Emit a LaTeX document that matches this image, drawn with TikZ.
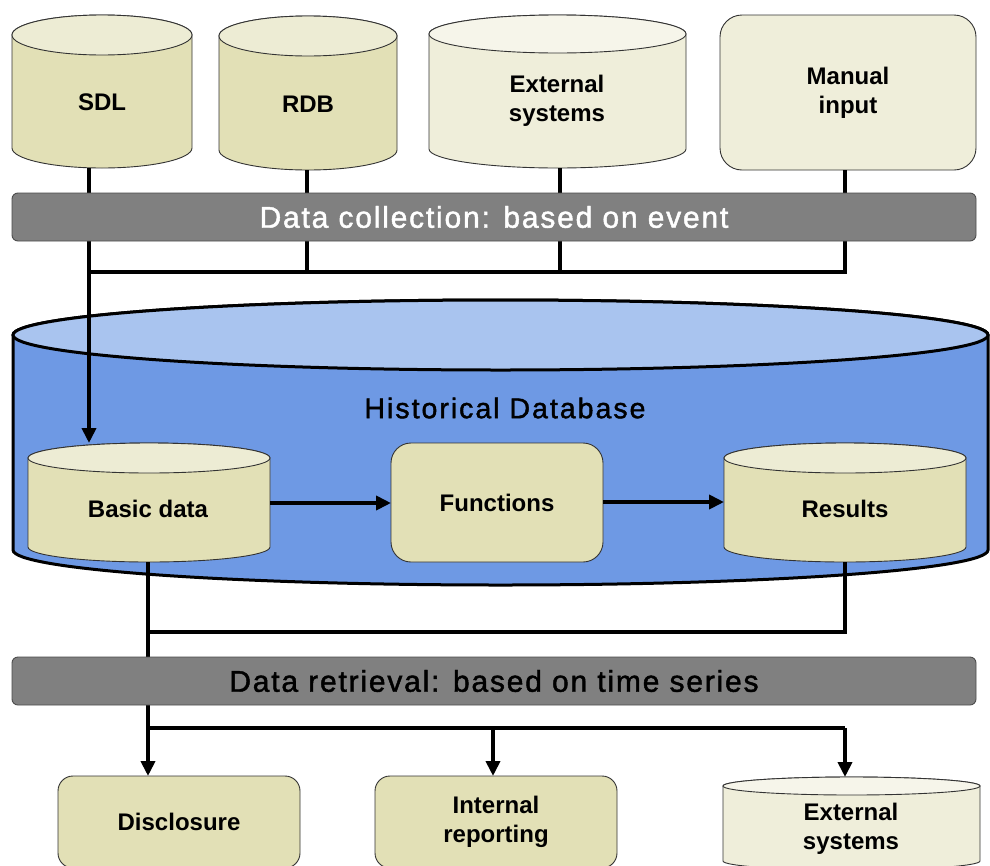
\documentclass[tikz,border=0pt]{standalone}
\usepackage{fontspec}
\setmainfont{Liberation Sans}
\newfontfamily\spacedfont[LetterSpace=6,FakeBold=1.5]{Liberation Sans}
\newfontfamily\hdbfont[LetterSpace=7,FakeBold=1.5]{Liberation Sans}
\usetikzlibrary{arrows.meta}
\definecolor{oliveside}{HTML}{E2E0B6}
\definecolor{olivetop}{HTML}{EDECD4}
\definecolor{paleside}{HTML}{EFEEDA}
\definecolor{paletop}{HTML}{F6F5EA}
\definecolor{barg}{HTML}{808080}
\definecolor{bigside}{HTML}{6E99E4}
\definecolor{bigtop}{HTML}{A9C4EF}
\newcommand\cylshape[9]{%
  \pgfmathsetmacro\mycx{(#3+#4)/2}%
  \pgfmathsetmacro\myrx{(#4-#3)/2}%
  \pgfmathsetmacro\mycyt{#5+#7}%
  \pgfmathsetmacro\mycyb{#6-#7}%
  \draw[#1, fill=#8] (#3,\mycyt) -- (#3,\mycyb)
     arc[start angle=180, end angle=0, x radius=\myrx, y radius=#7]
     -- (#4,\mycyt)
     arc[start angle=0, end angle=-180, x radius=\myrx, y radius=#7] -- cycle;
  \draw[#1, fill=#9] (\mycx,\mycyt) ellipse[x radius=\myrx, y radius=#7];
  \node[anchorbox, minimum width={#4-#3}, minimum height={#6-#5}] (#2) at (\mycx,{(#5+#6)/2}) {};
}
\begin{document}
\begin{tikzpicture}[x=1pt,y=-1pt,
  conn/.style={draw=black, line width=4.5pt},
  arr/.style={conn, -{Triangle[length=15pt,width=14pt]}},
  lbl/.style={font=\fontsize{24}{29}\selectfont\bfseries, align=center, inner sep=0pt, text=black},
  anchorbox/.style={rectangle, inner sep=0pt, outer sep=0pt},
  thinb/.style={draw=black!80, line width=0.9pt},
  thickb/.style={draw=black, line width=3pt},
  rbox/.style={rectangle, thinb, inner sep=0pt, outer sep=0pt, align=center,
     font=\fontsize{24}{29}\selectfont\bfseries},
  bar/.style={rectangle, draw=black!70, line width=0.9pt, rounded corners=6pt, fill=barg,
     minimum width=964pt, minimum height=48pt, inner sep=0pt, outer sep=0pt,
     font=\spacedfont\fontsize{30}{36}\selectfont}
]
\useasboundingbox (0,0) rectangle (990,865);
\fill[white] (0,0) rectangle (990,865);
\clip (0,0) rectangle (990,865);

% big historical database cylinder
\cylshape{thickb}{hdb}{13}{988}{300}{585}{35}{bigside}{bigtop}
\node[font=\hdbfont\fontsize{28.5}{34}\selectfont, inner sep=0pt] (hdbt) at (505,408) {Historical Database};

% inner nodes
\cylshape{thinb}{basic}{28}{270}{443}{562}{15}{oliveside}{olivetop}
\node[lbl] (basict) at (148,509) {Basic data};
\node[rbox, rounded corners=20pt, fill=oliveside, minimum width=212pt, minimum height=119pt] (func) at (497,502.5) {Functions};
\cylshape{thinb}{results}{724}{966}{443}{562}{15}{oliveside}{olivetop}
\node[lbl] (resultst) at (845,509) {Results};

% top sources
\cylshape{thinb}{sdl}{12}{192}{15}{168}{20}{oliveside}{olivetop}
\node[lbl] (sdlt) at (102,102) {SDL};
\cylshape{thinb}{rdb}{219}{397}{16}{170}{20}{oliveside}{olivetop}
\node[lbl] (rdbt) at (308,104) {RDB};
\cylshape{thinb}{ext1}{429}{686}{15}{168}{19}{paleside}{paletop}
\node[lbl] (ext1t) at (557,101) {External\\systems};
\node[rbox, rounded corners=22pt, fill=paleside, minimum width=256pt, minimum height=155pt] (manual) at (848,92.5) {Manual\\input};

% bottom targets
\node[rbox, rounded corners=15pt, fill=oliveside, minimum width=242pt, minimum height=92pt] (discl) at (179,822) {Disclosure};
\node[rbox, rounded corners=15pt, fill=oliveside, minimum width=242pt, minimum height=92pt] (internal) at (496,822) {Internal\\reporting};
\cylshape{thinb}{ext2}{723}{980}{777}{870}{9}{paleside}{paletop}
\node[lbl] (ext2t) at (851,829) {External\\systems};

% bus coordinates
\coordinate (b1w) at (89,272);
\coordinate (b1e) at (845,272);
\coordinate (b2w) at (148,632);
\coordinate (b2e) at (845,632);
\coordinate (b3w) at (148,728);
\coordinate (b3e) at (845,728);

% collection connectors
\draw[arr] (sdl.south -| b1w) -- (basic.north -| b1w);
\draw[conn] (rdb.south -| 307,0) -- (b1w -| 307,0);
\draw[conn] (ext1.south -| 560,0) -- (b1w -| 560,0);
\draw[conn] (manual.south -| b1e) -- (b1e) -- (b1w);

% internal arrows
\draw[arr] (basic.east |- 0,503) -- (func.west |- 0,503);
\draw[arr] (func.east |- 0,502) -- (results.west |- 0,502);

% retrieval connectors
\draw[conn] (basic.south -| b2w) -- (b3w);
\draw[conn] (results.south -| b2e) -- (b2e) -- (b2w);
\draw[conn] (b3w) -- (b3e);
\draw[arr] (b3w) -- (discl.north -| b3w);
\draw[arr] (b3w -| 493,0) -- (internal.north -| 493,0);
\draw[arr] (b3e) -- (ext2.north -| b3e);

% bars
\node[bar, text=white] (collect) at (494,217) {Data collection: based on event};
\node[bar, text=black] (retrieve) at (494,681) {Data retrieval: based on time series};
\end{tikzpicture}
\end{document}
